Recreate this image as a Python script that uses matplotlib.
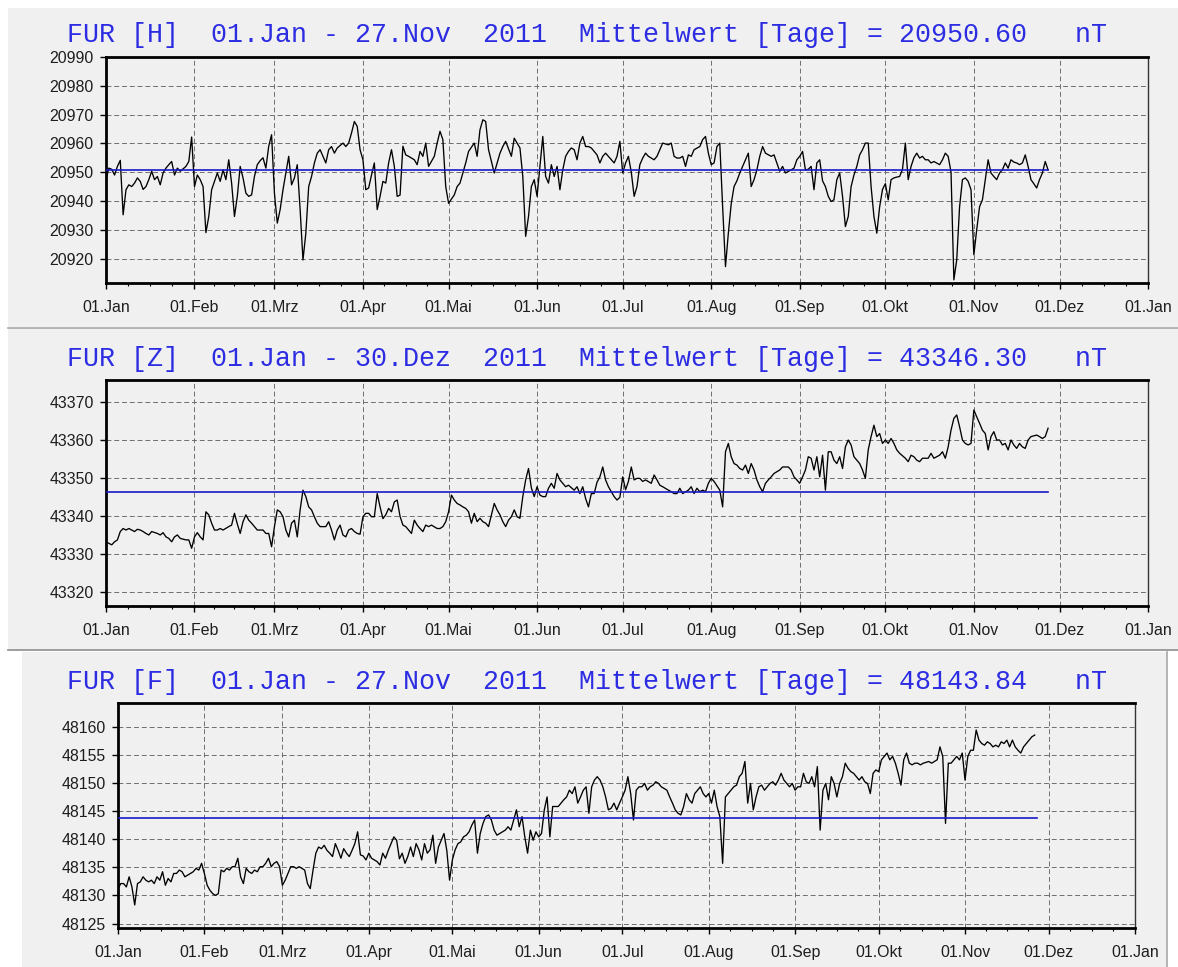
import matplotlib
matplotlib.use("Agg")
import matplotlib.pyplot as plt
import matplotlib.dates as mdates
from matplotlib.patches import Rectangle
from matplotlib.lines import Line2D
from matplotlib.ticker import FixedLocator
from datetime import datetime, timedelta

# Tagesmittelwerte FUR 2011 (Tag 0 = 01.Jan)
h_days = [0, 1, 2, 3, 4, 5, 6, 7, 8, 9, 10, 11, 12, 13, 14, 15, 16, 17, 18, 19, 20, 21, 22, 23, 24, 25, 26, 28, 29, 30,
          31, 32, 33, 34, 35, 36, 37, 38, 39, 40, 41, 42, 43, 44, 45, 46, 47, 48, 49, 50, 51, 52, 53, 54, 55, 56, 57, 58,
          59, 60, 61, 62, 63, 64, 65, 66, 67, 68, 69, 70, 71, 72, 73, 74, 75, 76, 77, 78, 79, 80, 81, 83, 84, 85, 86, 87,
          88, 89, 90, 91, 92, 93, 94, 95, 96, 97, 98, 99, 100, 101, 102, 103,
          104, 105, 106, 108, 109, 110, 111, 112, 113, 115, 116, 117, 118, 119, 120, 122, 123, 124, 125, 126, 127, 129,
          130, 131, 132, 133, 134, 136, 137, 138, 139, 140, 142, 143, 144, 145, 146, 147, 148, 149, 150, 151, 152, 153,
          154, 155, 156, 157, 158, 159, 160, 161, 162, 163, 164, 165, 166, 167, 168, 169, 170, 172, 173, 174, 175, 177,
          178, 179, 180, 181, 182, 183, 184, 185, 186, 187, 188, 189, 190, 192, 193, 195, 197, 198, 199, 200, 201, 202,
          203, 204, 205, 206, 208, 209, 210, 211, 212, 213, 214, 215, 216, 217, 218, 219, 220, 221, 222, 223, 224, 225,
          226, 227, 228, 229, 230, 231, 233, 234, 235, 236, 237, 238, 240, 241, 242, 243,
          244, 245, 246, 247, 248, 249, 250, 251, 252, 253, 254, 255, 256, 257, 258, 259, 260, 261, 262, 263, 264, 265,
          266, 267, 268, 269, 270, 271, 272, 273, 274, 275, 276, 277, 278, 279, 280, 281, 282, 283, 284, 285, 286, 287,
          288, 289, 290, 292, 293, 294, 295, 296, 297, 298, 299, 300, 301, 302, 303, 304, 305, 306, 307, 308, 309, 310,
          311, 312, 313, 314, 315, 316, 317, 318, 319, 320, 321, 322, 323, 324, 325, 326, 327, 328, 329, 330]
h_vals = [20947.4, 20951.4, 20951.0, 20949.0, 20952.0, 20954.1, 20935.2, 20943.9, 20945.6, 20945.0, 20946.2, 20948.0,
          20946.8, 20944.0, 20945.0, 20947.4, 20950.3, 20947.4, 20948.5, 20945.6, 20949.7, 20951.4, 20952.6, 20953.7,
          20949.0, 20951.4, 20950.3, 20952.0, 20953.7, 20962.2,
          20945.0, 20949.0, 20947.4, 20945.0, 20929.0, 20934.6, 20943.9, 20946.8, 20949.7, 20946.8, 20950.8, 20947.4,
          20954.3, 20946.2, 20934.6, 20941.6, 20952.0, 20948.0, 20942.7, 20941.6, 20942.1, 20948.5, 20952.6, 20954.0,
          20955.0, 20951.4, 20959.0, 20963.0,
          20942.7, 20932.3, 20937.0, 20943.9, 20949.7, 20955.5, 20945.6, 20948.0, 20952.6, 20937.0, 20919.5, 20928.8,
          20945.0, 20948.5, 20953.2, 20956.6, 20957.8, 20955.5, 20953.2, 20957.8, 20958.9, 20956.6, 20958.4, 20960.1,
          20958.9, 20960.1, 20963.6, 20967.6, 20965.9, 20957.8, 20954.3, 20943.9, 20944.5, 20949.0, 20953.2, 20937.0,
          20941.6, 20946.8, 20946.2, 20953.2, 20957.8, 20952.0, 20941.6, 20942.0,
          20959.0, 20956.0, 20955.5, 20954.3, 20952.6, 20957.2, 20955.5, 20960.1, 20952.0, 20955.5, 20960.1, 20964.2,
          20961.3, 20945.0, 20939.2, 20942.1, 20945.0, 20946.2, 20949.7, 20953.2, 20957.2, 20960.1,
          20955.5, 20964.7, 20968.2, 20967.6, 20957.8, 20949.7, 20953.2, 20956.6, 20958.9, 20960.7, 20955.5, 20961.8,
          20960.1, 20958.4, 20948.5, 20927.7, 20934.6, 20945.0, 20947.4, 20941.6, 20952.0, 20962.4,
          20948.5, 20946.2, 20952.6, 20948.5, 20952.0, 20943.9, 20950.8, 20955.5, 20957.2, 20958.4, 20957.8, 20954.3,
          20960.1, 20962.4, 20958.9, 20958.9, 20958.4, 20956.0, 20953.2, 20955.5, 20956.6, 20954.3,
          20953.2, 20955.5, 20960.7, 20949.7, 20953.2, 20955.5, 20950.0, 20941.6, 20945.0, 20952.6, 20954.9, 20956.6,
          20955.5, 20954.3, 20955.5, 20960.1, 20959.5, 20960.1, 20955.5, 20954.9, 20954.9, 20955.5,
          20952.0, 20956.0, 20955.5, 20957.8, 20958.9, 20961.3, 20962.4, 20956.6, 20952.6, 20953.2, 20958.9, 20960.1,
          20938.0, 20917.2, 20928.8, 20939.0, 20945.0, 20947.0, 20949.7, 20952.0, 20954.3, 20956.6,
          20945.0, 20947.4, 20950.8, 20955.5, 20958.9, 20956.6, 20955.5, 20956.0, 20953.2, 20950.3, 20952.0, 20949.7,
          20950.8, 20951.4, 20954.3, 20955.5,
          20957.2, 20950.8, 20951.0, 20952.0, 20943.9, 20953.2, 20954.3, 20947.0, 20945.0, 20941.6, 20939.8, 20940.4,
          20947.4, 20949.7, 20941.6, 20931.1, 20934.6, 20945.0, 20949.0, 20952.0, 20956.0, 20957.8,
          20960.1, 20960.1, 20945.0, 20934.6, 20928.8, 20938.0, 20944.0, 20946.0, 20940.4, 20947.4, 20948.0, 20948.3,
          20948.5, 20951.0, 20960.1, 20947.4, 20952.0, 20955.0, 20956.6, 20954.9, 20955.5, 20954.3,
          20954.3, 20953.2, 20953.7, 20952.6, 20954.3, 20956.6, 20955.5, 20950.0, 20912.6, 20919.5, 20938.0, 20947.4,
          20948.0, 20946.8, 20943.9, 20921.3, 20930.0, 20938.0, 20940.4, 20947.4, 20954.3, 20949.7,
          20948.5, 20947.4, 20949.7, 20950.8, 20953.2, 20951.4, 20954.3, 20953.5, 20953.2, 20952.6, 20953.2, 20956.0,
          20952.0, 20947.4, 20946.0, 20944.5, 20947.4, 20949.7, 20953.7, 20950.8]

z_days = [0, 1, 2, 3, 4, 5, 6, 7, 8, 10, 11, 12, 13, 14, 15, 16, 18, 19, 20, 21, 22, 23, 24, 25, 26, 28, 29, 30,
          31, 32, 33, 34, 35, 36, 37, 38, 39, 40, 41, 43, 44, 45, 46, 47, 48, 49, 50, 51, 52, 53, 55, 56, 57, 58,
          59, 60, 61, 62, 63, 64, 65, 66, 67, 68, 69, 70, 71, 72, 73, 74, 75, 76, 77, 78, 79, 80, 81, 82, 83, 84,
          85, 86, 87, 88, 89, 90, 91, 92, 93, 94, 95, 96, 97, 98, 99, 100, 101, 102, 103,
          104, 105, 106, 107, 108, 109, 110, 111, 112, 113, 114, 116, 117, 118, 119, 120, 121, 122, 123, 124, 125, 126,
          127, 128, 129, 130, 131, 132, 133, 134, 135, 136, 137, 138, 139, 140, 141, 142, 143, 144, 145, 146, 147, 148,
          149,
          150, 151, 152, 153, 154, 155, 156, 157, 158, 159, 160, 161, 162, 164, 165, 166, 167, 168, 169, 170, 171, 172,
          173, 174, 175, 176, 177, 178, 179, 180, 181, 182, 183, 184, 185, 186, 187, 188, 189, 191, 192, 193, 194, 195,
          197, 198, 199, 200, 201, 202, 204, 205, 206, 207, 208, 209, 210, 211, 212, 213, 215, 216, 217, 218, 219, 220,
          221, 222, 223, 224, 225, 226, 227, 228, 229, 230, 231, 232, 233, 234, 236, 237, 239, 240, 241, 242, 243,
          244, 245, 246, 247, 248, 249, 250, 251, 252, 253, 254, 255, 256, 257, 258, 259, 260, 261, 262, 263, 264, 265,
          266, 267, 268, 269, 270, 271, 272, 273, 274, 275, 276, 277, 278, 280, 281, 282, 283, 284, 285, 286, 288, 289,
          290, 291, 292, 293, 294, 295, 296, 297, 298, 299, 300, 301, 302, 303, 304, 305, 306, 307, 308, 309, 310, 311,
          312, 313, 314, 315, 316, 317, 318, 319, 320, 321, 322, 323, 324, 326, 327, 328, 329, 330]
z_vals = [43333.3, 43332.9, 43332.5, 43333.3, 43333.8, 43336.0, 43336.8, 43336.4, 43336.8, 43336.0, 43336.6, 43336.4,
          43336.0, 43335.5, 43335.1, 43336.0, 43335.5, 43335.1, 43335.7, 43334.6, 43334.2, 43333.3, 43334.6, 43335.1,
          43334.2, 43333.8, 43333.8, 43331.6,
          43334.6, 43335.7, 43334.6, 43333.8, 43341.2, 43340.4, 43338.2, 43336.4, 43336.4, 43336.8, 43336.4, 43337.3,
          43337.7, 43340.8, 43338.0, 43335.5, 43338.6, 43340.4, 43339.0, 43338.2, 43337.3, 43336.4, 43336.4, 43335.5,
          43335.5, 43332.0,
          43337.3, 43341.7, 43341.2, 43339.9, 43336.4, 43334.6, 43338.2, 43339.0, 43334.6, 43341.7, 43346.9, 43345.2,
          43342.5, 43341.7, 43339.9, 43338.2, 43337.3, 43337.3, 43337.3, 43338.6, 43336.4, 43333.8, 43336.4, 43337.7,
          43335.1, 43334.6, 43336.4, 43336.8, 43336.0, 43335.5, 43335.3, 43339.9, 43340.8, 43340.8, 43339.9, 43339.9,
          43346.0, 43342.5, 43339.4, 43340.4, 43342.1, 43341.2, 43343.8, 43344.3, 43340.0,
          43337.7, 43337.3, 43336.4, 43335.5, 43339.0, 43337.7, 43336.8, 43336.0, 43337.7, 43337.3, 43337.7, 43336.8,
          43336.8, 43337.3, 43338.6, 43341.2, 43345.6, 43344.3, 43343.4, 43343.0, 43342.5, 43342.1,
          43341.2, 43338.2, 43340.8, 43338.6, 43339.5, 43338.6, 43338.2, 43337.3, 43340.4, 43343.4, 43341.7, 43340.4,
          43338.6, 43337.3, 43339.0, 43339.9, 43341.7, 43339.9, 43339.5, 43345.2, 43349.6, 43352.6, 43347.5,
          43345.2, 43347.8, 43345.6, 43345.2, 43345.2, 43347.4, 43348.7, 43347.4, 43351.3, 43349.6, 43348.7, 43347.8,
          43348.2, 43346.9, 43347.8, 43346.0, 43347.8, 43344.7, 43342.5, 43346.0, 43346.0, 43349.0,
          43350.4, 43353.0, 43349.6, 43347.8, 43346.5, 43345.2, 43344.3, 43345.0, 43350.4, 43347.0, 43349.2, 43353.0,
          43349.6, 43350.0, 43350.0, 43349.2, 43349.6, 43348.7, 43350.9, 43349.6, 43348.2, 43347.8,
          43346.9, 43346.5, 43346.0, 43346.0, 43347.4, 43346.0, 43346.9, 43347.8, 43346.0, 43347.4, 43346.5, 43346.9,
          43346.5, 43348.7, 43350.0, 43349.2, 43346.9, 43342.5, 43357.0, 43359.2, 43355.7, 43353.9,
          43353.5, 43352.6, 43352.2, 43353.5, 43351.3, 43353.9, 43352.2, 43349.6, 43347.8, 43346.5, 43348.7, 43349.6,
          43350.4, 43351.3, 43352.2, 43353.0, 43353.0, 43352.2, 43350.4, 43349.6, 43348.7,
          43350.4, 43352.2, 43355.7, 43355.3, 43352.2, 43355.7, 43350.4, 43356.1, 43346.9, 43357.0, 43357.0, 43354.8,
          43353.9, 43355.7, 43352.6, 43358.3, 43360.1, 43358.8, 43355.7, 43354.8, 43353.9, 43352.2,
          43350.0, 43357.5, 43361.0, 43364.0, 43361.0, 43361.8, 43359.2, 43360.1, 43359.2, 43360.5, 43359.2, 43357.5,
          43356.6, 43355.3, 43354.4, 43356.1, 43355.7, 43354.8, 43354.4, 43355.3, 43355.3, 43356.6,
          43355.3, 43355.7, 43356.1, 43357.0, 43355.3, 43358.3, 43362.7, 43365.8, 43366.7, 43363.6, 43360.1, 43359.2,
          43358.8, 43359.2, 43368.0, 43366.2, 43364.5, 43362.7, 43361.8, 43357.5, 43361.0, 43362.3,
          43360.1, 43360.1, 43358.8, 43359.2, 43357.5, 43360.1, 43358.8, 43357.9, 43359.2, 43358.3, 43357.9, 43360.1,
          43361.0, 43361.4, 43361.0, 43360.5, 43361.0, 43363.2]

f_days = [0, 1, 2, 3, 4, 5, 6, 7, 8, 9, 10, 11, 12, 13, 14, 15, 16, 17, 18, 19, 20, 21, 22, 23, 24, 26, 27, 28, 29, 30,
          31, 32, 33, 34, 35, 36, 37, 38, 39, 40, 41, 42, 43, 44, 45, 46, 47, 48, 49, 50, 51, 52, 53, 54, 55, 56, 57, 58,
          59, 60, 61, 62, 63, 64, 65, 66, 67, 68, 69, 70, 71, 72, 73, 74, 75, 76, 77, 78, 79, 80, 81, 82, 83, 84, 85, 86,
          87, 88, 89,
          90, 91, 93, 94, 95, 96, 97, 99, 100, 101, 102, 103, 104, 105, 106, 107, 108, 109, 110, 111, 112, 113, 114, 115,
          116, 117, 118, 119,
          120, 121, 122, 123, 124, 125, 126, 127, 128, 129, 130, 131, 132, 133, 134, 135, 136, 137, 138, 139, 140, 141,
          142, 143, 144, 145, 146, 147, 148, 149, 150,
          151, 152, 153, 154, 155, 156, 157, 158, 160, 161, 162, 163, 164, 165, 166, 167, 168, 169, 170, 171, 172, 173,
          174, 175, 176, 177, 178, 179, 180,
          181, 182, 183, 184, 185, 186, 187, 188, 189, 190, 191, 192, 193, 194, 195, 197, 198, 199, 200, 201, 202, 203,
          204, 205, 206, 207, 208, 209, 210, 211,
          212, 213, 214, 215, 216, 217, 218, 219, 220, 221, 222, 223, 224, 225, 226, 227, 228, 229, 230, 231, 232, 233,
          234, 235, 236, 237, 238, 239, 240, 241, 242,
          243, 244, 245, 246, 247, 248, 249, 250, 251, 252, 253, 254, 255, 256, 257, 258, 259, 260, 261, 262, 263, 264,
          265, 266, 267, 268, 269, 270, 271, 272,
          273, 274, 275, 276, 277, 278, 279, 280, 281, 282, 283, 284, 285, 286, 287, 288, 289, 291, 292, 293, 294, 295,
          296, 297, 298, 299, 300, 301, 302, 303,
          304, 305, 306, 307, 308, 309, 310, 311, 312, 313, 314, 315, 316, 317, 318, 319, 320, 321, 322, 323, 324, 325,
          326, 327, 328, 329]
f_vals = [48131.2, 48132.1, 48132.1, 48131.5, 48133.3, 48131.5, 48128.3, 48132.1, 48132.4, 48133.3, 48132.7, 48132.4,
          48132.7, 48132.1, 48133.3, 48132.7, 48134.2, 48131.8, 48133.0, 48132.4, 48133.9, 48133.9, 48134.5, 48134.2,
          48133.3, 48133.9, 48134.2, 48134.8, 48134.5, 48135.7,
          48133.9, 48131.8, 48130.9, 48130.3, 48130.0, 48130.3, 48134.5, 48134.2, 48134.8, 48134.5, 48135.1, 48135.1,
          48136.6, 48133.3, 48132.1, 48134.8, 48134.2, 48133.9, 48134.5, 48134.2, 48135.1, 48135.1, 48135.7, 48136.6,
          48135.1, 48135.7, 48136.0, 48135.1,
          48131.8, 48132.7, 48133.9, 48135.1, 48135.1, 48134.8, 48135.1, 48134.8, 48134.5, 48132.1, 48131.2, 48134.5,
          48137.5, 48138.6, 48138.3, 48138.9, 48138.0, 48137.5, 48136.9, 48139.2, 48138.0, 48136.6, 48138.3, 48137.5,
          48136.9, 48138.0, 48139.2, 48141.3, 48137.2, 48137.0, 48136.3,
          48137.5, 48136.6, 48136.0, 48135.4, 48137.5, 48136.6, 48138.0, 48140.4, 48139.8, 48136.5, 48137.5, 48135.7,
          48136.9, 48138.6, 48136.9, 48139.2, 48138.1, 48136.3, 48139.2, 48137.5, 48138.1, 48140.7, 48135.7, 48138.6,
          48139.8, 48141.0, 48138.0, 48132.7,
          48136.3, 48138.1, 48139.2, 48139.5, 48140.4, 48140.7, 48141.3, 48142.5, 48143.4, 48137.5, 48141.0, 48142.8,
          48144.0, 48144.3, 48143.4, 48141.6, 48140.7, 48141.0, 48141.3, 48141.6, 48142.2, 48141.6, 48143.4, 48145.2,
          48142.2, 48144.0, 48140.4, 48137.5, 48141.6, 48139.8, 48141.3,
          48140.4, 48141.0, 48145.2, 48147.5, 48140.4, 48145.8, 48145.8, 48145.8, 48147.0, 48147.5, 48148.7, 48148.1,
          48149.3, 48146.4, 48147.5, 48148.7, 48149.3, 48144.6, 48149.3, 48150.5, 48151.1, 48150.5, 48149.3, 48147.5,
          48145.2, 48145.5, 48146.4, 48145.2, 48146.4,
          48147.5, 48148.7, 48151.1, 48148.1, 48143.4, 48148.7, 48149.3, 48149.3, 48149.9, 48148.7, 48149.3, 48149.6,
          48150.2, 48149.9, 48149.3, 48148.7, 48147.5, 48146.4, 48145.2, 48144.6, 48144.3, 48145.8, 48148.1, 48147.0,
          48146.4, 48148.1, 48148.7, 48149.3, 48148.1, 48147.5,
          48148.1, 48146.4, 48148.7, 48145.8, 48144.0, 48135.7, 48147.5, 48148.1, 48148.7, 48149.3, 48149.6, 48151.1,
          48151.7, 48153.8, 48146.4, 48149.9, 48145.2, 48147.5, 48149.3, 48149.6, 48148.7, 48149.3, 48149.9, 48150.2,
          48149.6, 48150.5, 48151.7, 48150.5, 48149.9, 48149.3, 48149.9,
          48148.7, 48149.3, 48149.3, 48151.7, 48150.2, 48149.9, 48151.1, 48149.3, 48152.9, 48141.6, 48148.7, 48149.9,
          48147.0, 48151.1, 48149.9, 48147.5, 48149.9, 48151.1, 48153.5, 48152.6, 48152.0, 48151.7, 48151.1, 48150.5,
          48151.1, 48150.2, 48149.9, 48148.1, 48151.7, 48152.3,
          48152.0, 48154.1, 48154.7, 48155.3, 48154.1, 48154.7, 48153.5, 48151.7, 48149.6, 48154.1, 48155.3, 48153.5,
          48153.2, 48153.5, 48153.5, 48153.2, 48153.5, 48153.8, 48153.5, 48153.8, 48154.1, 48156.4, 48154.7, 48142.8,
          48153.5, 48153.5, 48154.1, 48154.7, 48154.1, 48155.3,
          48150.5, 48154.7, 48155.8, 48155.8, 48159.4, 48157.6, 48157.0, 48156.7, 48157.3, 48157.0, 48156.4, 48156.7,
          48156.4, 48157.3, 48157.0, 48157.6, 48156.4, 48157.6, 48156.4, 48155.8, 48155.3, 48156.4, 48157.0, 48157.6,
          48158.2, 48158.5]

components = ["H", "Z", "F"]
end_labels = ["27.Nov", "30.Dez", "27.Nov"]
means = [20950.60, 43346.30, 48143.84]
mean_end_day = 330
month_labels = ["Jan", "Feb", "Mrz", "Apr", "Mai", "Jun", "Jul", "Aug", "Sep", "Okt", "Nov", "Dez"]
y_ranges = [(20911.5, 20990.0), (43316.4, 43375.9), (48124.2, 48164.2)]
y_ticks = [list(range(20920, 20991, 10)), list(range(43320, 43371, 10)), list(range(48125, 48161, 5))]

W, H = 1178, 967
start = datetime(2011, 1, 1)
end = datetime(2012, 1, 1)
title_blue = "#2c2ce2"
line_blue = "#1818c8"
panel_bg = "#f0f0f0"


def fx(px):
    return px / W


def fy(py):
    return 1 - py / H


fig = plt.figure(figsize=(W / 100, H / 100), dpi=100, facecolor="white")

# fensterhintergruende und trennlinien (hinter den achsen)
for x0, y0, x1, y1 in [(8, 8, 1178, 327), (8, 328, 1178, 649), (22, 652, 1167, 967)]:
    fig.patches.append(Rectangle((fx(x0), fy(y1)), fx(x1 - x0), (y1 - y0) / H,
                                 transform=fig.transFigure, facecolor=panel_bg, edgecolor="none", zorder=-5))
fig.add_artist(Line2D([fx(8), 1], [fy(327.5)] * 2, color="#a8a8a8", lw=1.2, zorder=-4))
fig.add_artist(Line2D([fx(8), 1], [fy(649.5)] * 2, color="#8c8c8c", lw=1.2, zorder=-4))
fig.add_artist(Line2D([fx(1167), fx(1167)], [0, fy(652)], color="#a8a8a8", lw=1.2, zorder=-4))

# (links, oben, rechts, unten) in pixeln, titel-y
boxes = [(106, 57, 1148, 283), (106, 380, 1148, 606), (118, 703, 1135, 928)]
title_y = [35, 359, 682]

series = [(h_days, h_vals), (z_days, z_vals), (f_days, f_vals)]

# monatsanfaenge und viertelmonate als nebenstriche
month_starts = [datetime(2011, m, 1) for m in range(1, 13)] + [end]
minor = []
for a, b in zip(month_starts[:-1], month_starts[1:]):
    step = (b - a) / 4
    minor += [mdates.date2num(a + k * step) for k in (1, 2, 3)]

for i in range(3):
    l, t, r, b = boxes[i]
    ax = fig.add_axes([fx(l), fy(b), fx(r - l), (b - t) / H])
    ax.set_facecolor(panel_bg)
    days, vals = series[i]
    dates = [start + timedelta(days=d) for d in days]
    ax.plot(dates, vals, color="black", lw=0.95, zorder=3)
    ax.plot([start, start + timedelta(days=mean_end_day)], [means[i], means[i]], color=line_blue, lw=1.2, zorder=4)

    ax.set_xlim(start, end)
    ax.set_ylim(*y_ranges[i])
    ax.set_yticks(y_ticks[i])
    ax.set_yticklabels([str(v) for v in y_ticks[i]])
    ax.set_xticks(month_starts)
    ax.set_xticklabels(["01." + m for m in month_labels + ["Jan"]])
    ax.xaxis.set_minor_locator(FixedLocator(minor))

    ax.grid(True, which="major", color="#6e6e6e", lw=0.7, linestyle=(0, (5, 3)))
    ax.tick_params(axis="y", direction="out", length=4, width=1, pad=5, labelsize=11.4,
                   labelcolor="#1e1e1e")
    ax.tick_params(axis="x", which="major", direction="out", length=4.5, width=1, pad=8,
                   labelsize=11.4, labelcolor="#1e1e1e")
    ax.tick_params(axis="x", which="minor", direction="out", length=2.5, width=0.8)
    for lab in ax.get_xticklabels() + ax.get_yticklabels():
        lab.set_fontfamily("Liberation Sans")

    for side in ("left", "bottom", "top"):
        ax.spines[side].set_linewidth(2.0)
        ax.spines[side].set_color("black")
    ax.spines["right"].set_linewidth(1.0)
    ax.spines["right"].set_color("#333333")

    title = "FUR [%s]  01.Jan - %s  2011  Mittelwert [Tage] = %.2f   nT" % (components[i], end_labels[i], means[i])
    fig.text(fx(67), fy(title_y[i]), title, ha="left", va="center", color=title_blue,
             fontsize=19.2, family="Liberation Mono")

fig.savefig("out.png", dpi=100, facecolor="white")
